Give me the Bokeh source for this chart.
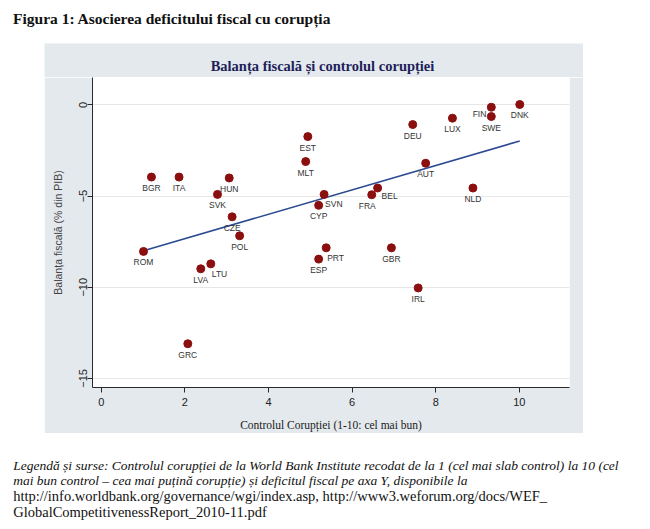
from bokeh.plotting import figure
from bokeh.models import ColumnDataSource, Range1d, FixedTicker, Spacer
from bokeh.layouts import column, row
from bokeh.embed import file_html
from bokeh.resources import INLINE
from bokeh.core.properties import value

# ---------------- data ----------------
countries = ["ROM", "BGR", "ITA", "GRC", "LVA", "LTU", "SVK", "HUN", "CZE", "POL",
             "MLT", "EST", "CYP", "ESP", "SVN", "PRT", "FRA", "BEL", "GBR", "DEU",
             "IRL", "AUT", "LUX", "NLD", "FIN", "SWE", "DNK"]
control = [1.01, 1.20, 1.86, 2.07, 2.38, 2.62, 2.78, 3.06, 3.13, 3.31,
           4.89, 4.94, 5.20, 5.20, 5.33, 5.38, 6.47, 6.61, 6.94, 7.45,
           7.58, 7.76, 8.40, 8.89, 9.33, 9.33, 10.01]
balance = [-8.04, -3.96, -3.96, -13.10, -8.99, -8.72, -4.91, -4.01, -6.14, -7.18,
           -3.11, -1.74, -5.51, -8.46, -4.91, -7.84, -4.93, -4.56, -7.84, -1.08,
           -10.04, -3.20, -0.73, -4.56, -0.13, -0.64, 0.02]
# marker-label clock position (Stata style)
label_clock = [6, 6, 6, 6, 6, 4, 6, 6, 6, 6,
               6, 6, 6, 6, 4, 4, 7, 3, 6, 6,
               6, 6, 6, 6, 8, 6, 6]
# fitted line end points
fit_x = [1.01, 10.01]
fit_y = [-8.0, -1.98]

x_ticks = [0, 2, 4, 6, 8, 10]
y_ticks = [-15, -10, -5, 0]

title_main = "Figura 1: Asocierea deficitului fiscal cu corupția"
title_chart = "Balanța fiscală și controlul corupției"
x_title = "Controlul Corupției (1-10: cel mai bun)"
y_title = "Balanța fiscală (% din PIB)"
caption_italic = [
    "Legendă și surse: Controlul corupției de la World Bank Institute recodat de la 1 (cel mai slab control) la 10 (cel",
    "mai bun control  – cea mai puțină corupție) și deficitul fiscal pe axa Y, disponibile  la",
]
caption_regular = [
    "http://info.worldbank.org/governance/wgi/index.asp, http://www3.weforum.org/docs/WEF_",
    "GlobalCompetitivenessReport_2010-11.pdf",
]

# ---------------- layout geometry ----------------
PAGE_W = 650
TOP_H = 43
PANEL_L, PANEL_W = 44, 539
HEAD_H = 34
BOT_H = 96
FL, FR, FB, FH = 48, 14, 46, 310
XMIN, XMAX = -0.21, 11.2
YMIN, YMAX = -15.5, 1.5
GREY = "#e4e9ed"

CLOCK = {6: (0, 11, "center"), 4: (1, 10, "left"), 3: (4, 8, "left"),
         7: (4, 11, "right"), 8: (-5, 7, "right")}
dx = [CLOCK[c][0] for c in label_clock]
dy = [CLOCK[c][1] for c in label_clock]
al = [CLOCK[c][2] for c in label_clock]

src = ColumnDataSource(dict(x=control, y=balance, name=countries, dx=dx, dy=dy, al=al))


def text_strip(width, height, fill):
    f = figure(width=width, height=height, output_backend="svg", toolbar_location=None,
               x_range=Range1d(0, width), y_range=Range1d(height, 0),
               x_axis_type=None, y_axis_type=None, min_border=0)
    f.outline_line_color = None
    f.background_fill_color = fill
    f.border_fill_color = fill
    return f


# top strip with the figure title
top = text_strip(PAGE_W, TOP_H, "white")
top.text(x=[12.5], y=[18.3], text=[title_main], text_font=value("Liberation Serif"),
         text_font_size="15.5px", text_font_style="bold", text_color="#111111",
         text_align="left", text_baseline="alphabetic")

# grey head of the graph region with the chart title
head = text_strip(PANEL_W, HEAD_H, GREY)
head.text(x=[278], y=[22.7], text=[title_chart], text_font=value("Liberation Serif"),
          text_font_size="14.5px", text_font_style="bold", text_color="#1e1e5a",
          text_align="center", text_baseline="alphabetic")

# main chart (grey graph region = border fill)
p = figure(width=PANEL_W, height=FH + FB, output_backend="svg", toolbar_location=None,
           x_range=Range1d(XMIN, XMAX), y_range=Range1d(YMIN, YMAX),
           min_border_left=FL, min_border_right=FR, min_border_top=0, min_border_bottom=FB)
p.outline_line_color = None
p.background_fill_color = "white"
p.border_fill_color = GREY

for ax in (p.xaxis[0], p.yaxis[0]):
    ax.major_tick_out = 5
    ax.major_tick_in = 0
    ax.minor_tick_line_color = None
    ax.axis_line_color = "#2a2a2a"
    ax.major_tick_line_color = "#2a2a2a"
    ax.major_label_text_font = "Liberation Sans"
    ax.major_label_text_font_size = "11px"
    ax.major_label_text_color = "#222222"
    ax.axis_label_text_font_style = "normal"

p.xaxis.ticker = FixedTicker(ticks=x_ticks)
p.yaxis.ticker = FixedTicker(ticks=y_ticks)
p.yaxis.major_label_orientation = "vertical"
p.xaxis.major_label_standoff = 5
p.yaxis.major_label_standoff = 0

p.xaxis.axis_label = x_title
p.xaxis.axis_label_text_font = "Liberation Serif"
p.xaxis.axis_label_text_font_size = "11.5px"
p.xaxis.axis_label_text_color = "#1a1a1a"
p.xaxis.axis_label_standoff = 10

p.yaxis.axis_label = y_title
p.yaxis.axis_label_text_font = "Liberation Sans"
p.yaxis.axis_label_text_font_size = "10.5px"
p.yaxis.axis_label_text_color = "#444444"
p.yaxis.axis_label_standoff = 13

p.xgrid.grid_line_color = None
p.ygrid.grid_line_color = "#e6e6e6"
p.ygrid.grid_line_width = 1.2

p.line(fit_x, fit_y, line_color="#2c4a92", line_width=1.6)
p.scatter("x", "y", source=src, size=8, fill_color="#8b0f0f", line_color="#8b0f0f")
p.text("x", "y", text="name", source=src, x_offset="dx", y_offset="dy",
       text_align="al", text_baseline="middle",
       text_font=value("Liberation Sans"), text_font_size="8.5px", text_color="#333333")

# bottom strip with the legend / sources note
bot = text_strip(PAGE_W, BOT_H, "white")
bot.text(x=[12.7, 12.7], y=[31.5, 46.5], text=caption_italic,
         text_font=value("Liberation Serif"), text_font_size="13.5px",
         text_font_style="italic", text_color="#111111",
         text_align="left", text_baseline="alphabetic")
bot.text(x=[12.7, 12.7], y=[62.5, 78.0], text=caption_regular,
         text_font=value("Liberation Serif"), text_font_size="14.5px",
         text_color="#111111", text_align="left", text_baseline="alphabetic")

layout = column(top,
                row(Spacer(width=PANEL_L, height=HEAD_H), head),
                row(Spacer(width=PANEL_L, height=FH + FB), p),
                bot, spacing=0)

open("out.html", "w").write(file_html(layout, INLINE))
